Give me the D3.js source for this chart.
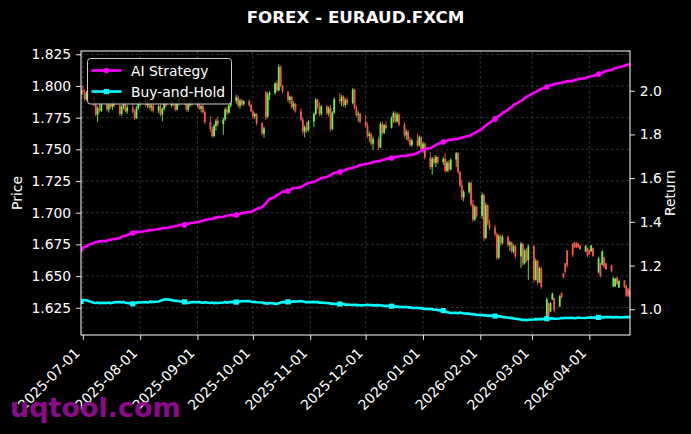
<!DOCTYPE html>
<html><head><meta charset="utf-8">
<script src="https://cdn.jsdelivr.net/npm/d3@7/dist/d3.min.js"></script>
<style>
body{margin:0;background:#000;}
svg{display:block;}
text{font-family:"DejaVu Sans",sans-serif;}
</style>
</head><body>
<svg id="chart" width="691" height="434"></svg>
<script>
// ---------------- DATA ----------------
const chartTitle = "FOREX - EURAUD.FXCM";
const firstDay = "2025-06-30";   // first trading day (weekdays only)
const lastDay  = "2026-04-23";   // last trading day
const priceTicks  = [1.625, 1.650, 1.675, 1.700, 1.725, 1.750, 1.775, 1.800, 1.825];
const returnTicks = [1.0, 1.2, 1.4, 1.6, 1.8, 2.0];
const monthTicks  = ["2025-07-01","2025-08-01","2025-09-01","2025-10-01","2025-11-01","2025-12-01",
                     "2026-01-01","2026-02-01","2026-03-01","2026-04-01"];
const seriesNames = ["AI Strategy", "Buy-and-Hold"];

// daily candles, one row per week (Mon..Fri)
const open = [
 1.7935,1.7965,1.7950,1.7895,1.7940, 1.7915,1.7850,1.7775,1.7825,1.7805, 1.7855,1.7815,1.7850,1.7835,1.7870,
 1.7845,1.7780,1.7835,1.7860,1.7800, 1.7830,1.7800,1.7745,1.7825,1.7865, 1.7880,1.7850,1.7875,1.7830,1.7845,
 1.7805,1.7840,1.7775,1.7820,1.7865, 1.7845,1.7880,1.7855,1.7815,1.7860, 1.7890,1.7865,1.7815,1.7850,1.7880,
 1.7855,1.7870,1.7820,1.7840,1.7795, 1.7715,1.7660,1.7605,1.7685,1.7725, 1.7700,1.7735,1.7815,1.7790,1.7845,
 1.7880,1.7910,1.7845,1.7885,1.7855, 1.7880,1.7850,1.7800,1.7760,1.7780, 1.7705,1.7625,1.7950,1.7760,1.7930,
 1.7945,1.8020,1.7965,1.8150,1.8005, 1.7955,1.7890,1.7915,1.7835,1.7860, 1.7800,1.7735,1.7640,1.7675,1.7650,
 1.7720,1.7780,1.7890,1.7835,1.7780, 1.7840,1.7785,1.7825,1.7660,1.7790, 1.7895,1.7880,1.7915,1.7850,1.7890,
 1.7865,1.7970,1.7830,1.7770,1.7780, 1.7720,1.7685,1.7605,1.7620,1.7545, 1.7580,1.7515,1.7700,1.7630,1.7690,
 1.7670,1.7750,1.7785,1.7720,1.7775, 1.7695,1.7610,1.7640,1.7575,1.7535, 1.7570,1.7530,1.7595,1.7500,1.7545,
 1.7435,1.7360,1.7425,1.7395,1.7440, 1.7400,1.7425,1.7330,1.7395,1.7340, 1.7420,1.7470,1.7320,1.7215,1.7120,
 1.7165,1.7235,1.7065,1.6945,1.7045, 1.6975,1.7140,1.6800,1.7060,1.6915, 1.6880,1.6830,1.6645,1.6815,1.6760,
 1.6810,1.6745,1.6765,1.6695,1.6735, 1.6655,1.6755,1.6600,1.6700,1.6625, 1.6735,1.6470,1.6620,1.6450,1.6560,
 1.6175,1.6285,1.6220,1.6315,1.6325, 1.6260,1.6365,1.6520,1.6600,1.6700, 1.6755,1.6765,1.6760,1.6755,1.6740,
 1.6695,1.6720,1.6705,1.6695,1.6720, 1.6530,1.6600,1.6590,1.6645,1.6600, 1.6585,1.6420,1.6418,1.6488,1.6412,
 1.6465,1.6425,1.6400,1.6385
];
const high = [
 1.7990,1.8005,1.7975,1.7960,1.7965, 1.7930,1.7870,1.7840,1.7860,1.7870, 1.7880,1.7865,1.7875,1.7885,1.7895,
 1.7870,1.7850,1.7880,1.7875,1.7850, 1.7855,1.7815,1.7840,1.7880,1.7895, 1.7905,1.7890,1.7895,1.7860,1.7870,
 1.7850,1.7870,1.7830,1.7880,1.7885, 1.7895,1.7905,1.7870,1.7870,1.7900, 1.7910,1.7880,1.7860,1.7895,1.7900,
 1.7885,1.7880,1.7850,1.7860,1.7810, 1.7760,1.7680,1.7700,1.7740,1.7760, 1.7750,1.7830,1.7840,1.7860,1.7895,
 1.7930,1.7925,1.7900,1.7900,1.7890, 1.7895,1.7860,1.7815,1.7790,1.7785, 1.7715,1.7680,1.7965,1.7950,1.7960,
 1.8030,1.8045,1.8170,1.8160,1.8010, 1.7960,1.7925,1.7920,1.7880,1.7865, 1.7825,1.7750,1.7690,1.7715,1.7730,
 1.7790,1.7905,1.7900,1.7870,1.7850, 1.7850,1.7840,1.7850,1.7800,1.7910, 1.7945,1.7930,1.7925,1.7905,1.7910,
 1.7985,1.7980,1.7845,1.7800,1.7790, 1.7770,1.7710,1.7640,1.7630,1.7600, 1.7600,1.7715,1.7720,1.7700,1.7720,
 1.7760,1.7800,1.7800,1.7790,1.7790, 1.7715,1.7660,1.7650,1.7600,1.7585, 1.7625,1.7610,1.7605,1.7560,1.7555,
 1.7480,1.7440,1.7450,1.7455,1.7445, 1.7440,1.7470,1.7410,1.7415,1.7430, 1.7480,1.7475,1.7330,1.7260,1.7180,
 1.7245,1.7245,1.7100,1.7060,1.7055, 1.7160,1.7150,1.7080,1.7065,1.6945, 1.6905,1.6845,1.6830,1.6830,1.6825,
 1.6820,1.6780,1.6775,1.6750,1.6745, 1.6770,1.6760,1.6715,1.6720,1.6750, 1.6745,1.6640,1.6630,1.6575,1.6575,
 1.6330,1.6290,1.6295,1.6370,1.6330, 1.6350,1.6370,1.6525,1.6605,1.6705, 1.6760,1.6770,1.6770,1.6762,1.6745,
 1.6745,1.6725,1.6710,1.6745,1.6725, 1.6650,1.6605,1.6705,1.6650,1.6603, 1.6590,1.6492,1.6485,1.6492,1.6469,
 1.6469,1.6430,1.6406,1.6390
];
const low = [
 1.7900,1.7930,1.7880,1.7885,1.7900, 1.7840,1.7760,1.7715,1.7790,1.7795, 1.7800,1.7790,1.7820,1.7810,1.7830,
 1.7760,1.7765,1.7815,1.7790,1.7780, 1.7785,1.7730,1.7740,1.7810,1.7840, 1.7835,1.7825,1.7815,1.7800,1.7790,
 1.7785,1.7760,1.7720,1.7805,1.7830, 1.7830,1.7840,1.7800,1.7805,1.7845, 1.7850,1.7800,1.7795,1.7835,1.7840,
 1.7835,1.7810,1.7790,1.7780,1.7700, 1.7640,1.7590,1.7595,1.7650,1.7680, 1.7615,1.7725,1.7770,1.7780,1.7830,
 1.7860,1.7830,1.7820,1.7840,1.7845, 1.7835,1.7790,1.7745,1.7740,1.7690, 1.7610,1.7590,1.7730,1.7750,1.7890,
 1.7930,1.7950,1.7960,1.7990,1.7940, 1.7870,1.7860,1.7820,1.7810,1.7790, 1.7720,1.7620,1.7595,1.7630,1.7640,
 1.7675,1.7770,1.7820,1.7760,1.7765, 1.7770,1.7760,1.7640,1.7650,1.7780, 1.7860,1.7840,1.7835,1.7830,1.7850,
 1.7855,1.7815,1.7755,1.7715,1.7705, 1.7670,1.7590,1.7560,1.7530,1.7495, 1.7495,1.7510,1.7610,1.7620,1.7655,
 1.7665,1.7710,1.7705,1.7710,1.7680, 1.7595,1.7575,1.7560,1.7520,1.7520, 1.7515,1.7520,1.7485,1.7475,1.7420,
 1.7340,1.7300,1.7380,1.7360,1.7385, 1.7375,1.7315,1.7320,1.7320,1.7335, 1.7360,1.7305,1.7200,1.7100,1.7090,
 1.7150,1.7050,1.6925,1.6935,1.6960, 1.6950,1.6775,1.6790,1.6900,1.6860, 1.6810,1.6625,1.6635,1.6740,1.6750,
 1.6730,1.6700,1.6680,1.6680,1.6640, 1.6565,1.6580,1.6590,1.6610,1.6470, 1.6450,1.6465,1.6430,1.6445,1.6400,
 1.6155,1.6175,1.6215,1.6310,1.6215, 1.6255,1.6325,1.6480,1.6520,1.6570, 1.6650,1.6720,1.6720,1.6720,1.6705,
 1.6690,1.6650,1.6665,1.6690,1.6650, 1.6520,1.6490,1.6585,1.6563,1.6548, 1.6530,1.6414,1.6414,1.6430,1.6406,
 1.6406,1.6335,1.6335,1.6327
];
const close = [
 1.7965,1.7950,1.7895,1.7940,1.7915, 1.7850,1.7775,1.7825,1.7805,1.7855, 1.7815,1.7850,1.7835,1.7870,1.7845,
 1.7780,1.7835,1.7860,1.7800,1.7830, 1.7800,1.7745,1.7825,1.7865,1.7880, 1.7850,1.7875,1.7830,1.7845,1.7805,
 1.7840,1.7775,1.7820,1.7865,1.7845, 1.7880,1.7855,1.7815,1.7860,1.7890, 1.7865,1.7815,1.7850,1.7880,1.7855,
 1.7870,1.7820,1.7840,1.7795,1.7715, 1.7660,1.7605,1.7685,1.7725,1.7700, 1.7735,1.7815,1.7790,1.7845,1.7880,
 1.7910,1.7845,1.7885,1.7855,1.7880, 1.7850,1.7800,1.7760,1.7780,1.7705, 1.7625,1.7665,1.7750,1.7930,1.7945,
 1.8020,1.7965,1.8150,1.8005,1.7955, 1.7890,1.7915,1.7835,1.7860,1.7800, 1.7735,1.7640,1.7675,1.7650,1.7720,
 1.7780,1.7890,1.7835,1.7780,1.7840, 1.7785,1.7825,1.7660,1.7790,1.7895, 1.7880,1.7915,1.7850,1.7890,1.7865,
 1.7970,1.7830,1.7770,1.7780,1.7720, 1.7685,1.7605,1.7620,1.7545,1.7580, 1.7515,1.7700,1.7630,1.7690,1.7670,
 1.7750,1.7785,1.7720,1.7775,1.7695, 1.7610,1.7640,1.7575,1.7535,1.7570, 1.7530,1.7595,1.7500,1.7545,1.7435,
 1.7360,1.7425,1.7395,1.7440,1.7400, 1.7425,1.7330,1.7395,1.7340,1.7420, 1.7470,1.7320,1.7215,1.7120,1.7165,
 1.7235,1.7065,1.6945,1.7045,1.6975, 1.7140,1.6800,1.7060,1.6915,1.6880, 1.6830,1.6645,1.6815,1.6760,1.6810,
 1.6745,1.6765,1.6695,1.6735,1.6655, 1.6755,1.6600,1.6700,1.6625,1.6735, 1.6470,1.6620,1.6450,1.6560,1.6415,
 1.6315,1.6190,1.6285,1.6360,1.6230, 1.6340,1.6330,1.6490,1.6530,1.6585, 1.6665,1.6730,1.6725,1.6728,1.6712,
 1.6738,1.6660,1.6672,1.6740,1.6660, 1.6640,1.6500,1.6695,1.6575,1.6555, 1.6540,1.6485,1.6478,1.6440,1.6460,
 1.6412,1.6345,1.6345,1.6340
];

// cumulative returns, one value per trading day
const aiStrategy = [
 1.276,1.280,1.285,1.289,1.294, 1.303,1.308,1.308,1.312,1.312, 1.312,1.317,1.317,1.321,1.321,
 1.326,1.331,1.335,1.335,1.340, 1.349,1.349,1.354,1.354,1.354, 1.358,1.358,1.363,1.363,1.363,
 1.367,1.367,1.372,1.372,1.372, 1.377,1.377,1.381,1.381,1.386, 1.386,1.390,1.390,1.395,1.395,
 1.399,1.399,1.404,1.404,1.409, 1.413,1.413,1.418,1.418,1.422, 1.422,1.427,1.427,1.431,1.431,
 1.431,1.436,1.436,1.441,1.441, 1.445,1.445,1.450,1.454,1.459, 1.468,1.477,1.486,1.495,1.505,
 1.514,1.523,1.527,1.532,1.537, 1.541,1.546,1.550,1.555,1.555, 1.559,1.564,1.569,1.573,1.578,
 1.582,1.587,1.591,1.596,1.601, 1.605,1.610,1.614,1.619,1.624, 1.628,1.633,1.633,1.637,1.642,
 1.646,1.651,1.651,1.656,1.660, 1.665,1.665,1.669,1.669,1.674, 1.678,1.678,1.683,1.683,1.688,
 1.692,1.692,1.697,1.697,1.701, 1.701,1.701,1.706,1.706,1.706, 1.715,1.720,1.724,1.729,1.733,
 1.738,1.742,1.747,1.752,1.756, 1.765,1.770,1.770,1.775,1.775, 1.779,1.779,1.784,1.784,1.788,
 1.793,1.797,1.802,1.806,1.811, 1.825,1.834,1.839,1.848,1.852, 1.871,1.880,1.884,1.889,1.898,
 1.912,1.921,1.925,1.935,1.939, 1.953,1.958,1.967,1.971,1.976, 1.990,1.994,1.999,2.003,2.008,
 2.017,2.021,2.026,2.026,2.031, 2.035,2.035,2.040,2.040,2.044, 2.044,2.049,2.049,2.054,2.054,
 2.058,2.063,2.063,2.067,2.067, 2.076,2.081,2.081,2.086,2.090, 2.095,2.099,2.104,2.104,2.108,
 2.113,2.118,2.118,2.122
];
const buyHold = [
 1.036,1.040,1.043,1.041,1.038, 1.030,1.029,1.031,1.028,1.030, 1.029,1.031,1.028,1.030,1.032,
 1.033,1.031,1.034,1.030,1.029, 1.025,1.027,1.030,1.032,1.031, 1.033,1.031,1.034,1.035,1.033,
 1.036,1.039,1.042,1.045,1.046, 1.042,1.040,1.038,1.039,1.037, 1.034,1.031,1.029,1.031,1.033,
 1.032,1.034,1.031,1.030,1.032, 1.029,1.031,1.028,1.030,1.029, 1.031,1.033,1.030,1.032,1.034,
 1.033,1.035,1.036,1.038,1.037, 1.038,1.035,1.033,1.034,1.032, 1.031,1.028,1.027,1.026,1.029,
 1.026,1.024,1.028,1.031,1.033, 1.034,1.032,1.035,1.037,1.035, 1.038,1.036,1.034,1.032,1.033,
 1.034,1.032,1.033,1.030,1.031, 1.029,1.028,1.026,1.027,1.025, 1.024,1.023,1.024,1.021,1.022,
 1.020,1.021,1.019,1.020,1.018, 1.020,1.021,1.019,1.020,1.018, 1.019,1.017,1.018,1.015,1.016,
 1.014,1.015,1.012,1.013,1.011, 1.010,1.011,1.008,1.009,1.006, 1.007,1.005,1.006,1.003,1.001,
 1.002,1.000,0.998,0.999,0.996, 0.994,0.990,0.987,0.985,0.983, 0.984,0.982,0.985,0.983,0.981,
 0.980,0.978,0.976,0.977,0.974, 0.974,0.972,0.973,0.970,0.971, 0.969,0.970,0.967,0.968,0.965,
 0.962,0.960,0.961,0.958,0.957, 0.953,0.951,0.952,0.950,0.952, 0.953,0.955,0.954,0.956,0.955,
 0.957,0.956,0.958,0.959,0.957, 0.958,0.960,0.959,0.961,0.960, 0.961,0.959,0.960,0.962,0.961,
 0.960,0.962,0.961,0.963,0.962, 0.963,0.962,0.964,0.963,0.965, 0.964,0.963,0.965,0.964,0.963,
 0.964,0.965,0.964,0.965
];

// ---------------- CHART ----------------
const W = 691, H = 434;
const M = {left: 81, right: 630, top: 51, bottom: 335};
const parse = d3.utcParse("%Y-%m-%d");
const days = d3.utcDay.range(parse(firstDay), d3.utcDay.offset(parse(lastDay), 1))
  .filter(d => d.getUTCDay() !== 0 && d.getUTCDay() !== 6);

const candles = days.map((d, i) => ({date: d, o: open[i], h: high[i], l: low[i], c: close[i]}));
const stratPts = days.map((d, i) => ({date: d, v: aiStrategy[i], i}));
const bhPts = days.map((d, i) => ({date: d, v: buyHold[i], i}));

const x = d3.scaleUtc().domain([parse(firstDay), parse(lastDay)]).range([M.left, M.right]);
const y = d3.scaleLinear().domain([1.6035, 1.8276]).range([M.bottom, M.top]);
const yR = d3.scaleLinear().domain([0.8824, 2.1816]).range([M.bottom, M.top]);

const svg = d3.select("#chart");
svg.append("rect").attr("width", W).attr("height", H).attr("fill", "#000");

svg.append("defs").append("clipPath").attr("id", "plotclip")
  .append("rect").attr("x", M.left).attr("y", M.top)
  .attr("width", M.right - M.left).attr("height", M.bottom - M.top);

// grid
const grid = svg.append("g");
grid.selectAll("line.gx").data(monthTicks).join("line")
  .attr("x1", d => x(parse(d))).attr("x2", d => x(parse(d)))
  .attr("y1", M.top).attr("y2", M.bottom)
  .attr("stroke", "#4a4a4a").attr("stroke-width", 0.7).attr("stroke-dasharray", "2.6,2.4");
grid.selectAll("line.gy").data(priceTicks).join("line")
  .attr("y1", d => y(d)).attr("y2", d => y(d))
  .attr("x1", M.left).attr("x2", M.right)
  .attr("stroke", "#4a4a4a").attr("stroke-width", 0.7).attr("stroke-dasharray", "2.6,2.4");

// candles
const upCol = "#6cf04a", downCol = "#f0584a";
const cg = svg.append("g").attr("clip-path", "url(#plotclip)");
cg.selectAll("line.wick").data(candles).join("line")
  .attr("x1", d => x(d.date)).attr("x2", d => x(d.date))
  .attr("y1", d => y(d.h)).attr("y2", d => y(d.l))
  .attr("stroke", d => d.c >= d.o ? upCol : downCol).attr("stroke-width", 0.9);
cg.selectAll("rect.body").data(candles).join("rect")
  .attr("x", d => x(d.date) - 0.9).attr("width", 1.8)
  .attr("y", d => y(Math.max(d.o, d.c)))
  .attr("height", d => Math.max(0.8, Math.abs(y(d.o) - y(d.c))))
  .attr("fill", d => d.c >= d.o ? upCol : downCol);

// lines
const lineGen = d3.line().x(d => x(d.date)).y(d => yR(d.v));
const lg = svg.append("g").attr("clip-path", "url(#plotclip)");
lg.append("path").datum(bhPts).attr("d", lineGen)
  .attr("fill", "none").attr("stroke", "#00ffff").attr("stroke-width", 2.6).attr("stroke-linejoin", "round");
lg.selectAll("rect.bhm").data(bhPts.filter(d => d.i % 20 === 0)).join("rect")
  .attr("x", d => x(d.date) - 2.6).attr("y", d => yR(d.v) - 2.6)
  .attr("width", 5.2).attr("height", 5.2).attr("fill", "#00ffff");
lg.append("path").datum(stratPts).attr("d", lineGen)
  .attr("fill", "none").attr("stroke", "#ff00ff").attr("stroke-width", 2.6).attr("stroke-linejoin", "round");
lg.selectAll("circle.sm").data(stratPts.filter(d => d.i % 20 === 0)).join("circle")
  .attr("cx", d => x(d.date)).attr("cy", d => yR(d.v)).attr("r", 2.8).attr("fill", "#ff00ff");

// axes
const fs = "13.9px";
function styleAxis(g) {
  g.select(".domain").remove();
  g.selectAll(".tick line").attr("stroke", "#fff").attr("stroke-width", 0.9);
  g.selectAll(".tick text").attr("fill", "#fff").style("font-size", fs).style("font-family", "DejaVu Sans");
}
svg.append("g").attr("transform", `translate(${M.left},0)`)
  .call(d3.axisLeft(y).tickValues(priceTicks).tickFormat(d3.format(".3f")).tickSize(4.9).tickPadding(4.9))
  .call(styleAxis);
svg.append("g").attr("transform", `translate(${M.right},0)`)
  .call(d3.axisRight(yR).tickValues(returnTicks).tickFormat(d3.format(".1f")).tickSize(4.9).tickPadding(4.9))
  .call(styleAxis);
const xg = svg.append("g").attr("transform", `translate(0,${M.bottom})`)
  .call(d3.axisBottom(x).tickValues(monthTicks.map(parse)).tickFormat(d3.utcFormat("%Y-%m-%d")).tickSize(4.9))
  .call(styleAxis);
xg.selectAll(".tick text")
  .attr("text-anchor", "end").attr("dy", null).attr("y", null)
  .attr("transform", "translate(-2.5,19) rotate(-45)");

// spines
svg.append("rect").attr("x", M.left).attr("y", M.top)
  .attr("width", M.right - M.left).attr("height", M.bottom - M.top)
  .attr("fill", "none").attr("stroke", "#fff").attr("stroke-width", 1);

// labels
svg.append("text").attr("x", (M.left + M.right) / 2).attr("y", 23)
  .attr("text-anchor", "middle").attr("fill", "#fff")
  .style("font-size", "16.7px").style("font-weight", "bold").text(chartTitle);
svg.append("text").attr("transform", `translate(22,${(M.top + M.bottom) / 2}) rotate(-90)`)
  .attr("text-anchor", "middle").attr("fill", "#fff").style("font-size", fs).text("Price");
svg.append("text").attr("transform", `translate(675,${(M.top + M.bottom) / 2}) rotate(-90)`)
  .attr("text-anchor", "middle").attr("fill", "#fff").style("font-size", fs).text("Return");

// legend
const leg = svg.append("g");
leg.append("rect").attr("x", 87.5).attr("y", 58.5).attr("width", 144).attr("height", 45.5)
  .attr("rx", 3).attr("fill", "#000").attr("fill-opacity", 0.85).attr("stroke", "#cccccc").attr("stroke-width", 1);
const legItems = [
  {name: seriesNames[0], color: "#ff00ff", shape: "circle", yy: 70.5},
  {name: seriesNames[1], color: "#00ffff", shape: "square", yy: 91.5}
];
legItems.forEach(it => {
  leg.append("line").attr("x1", 91.5).attr("x2", 121.5).attr("y1", it.yy).attr("y2", it.yy)
    .attr("stroke", it.color).attr("stroke-width", 2.6);
  if (it.shape === "circle") leg.append("circle").attr("cx", 106.5).attr("cy", it.yy).attr("r", 2.8).attr("fill", it.color);
  else leg.append("rect").attr("x", 103.9).attr("y", it.yy - 2.6).attr("width", 5.2).attr("height", 5.2).attr("fill", it.color);
  leg.append("text").attr("x", 131).attr("y", it.yy + 5).attr("fill", "#fff").style("font-size", fs).text(it.name);
});

// watermark
svg.append("text").attr("x", 10).attr("y", 417).attr("fill", "#8b0a8b")
  .style("font-size", "27px").style("font-weight", "bold").text("uqtool.com");
</script>
</body></html>
